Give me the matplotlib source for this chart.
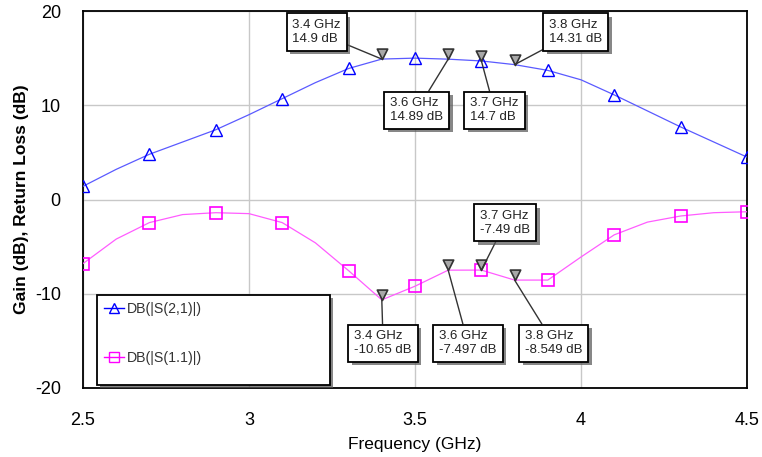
import matplotlib
matplotlib.use("Agg")
import matplotlib.pyplot as plt
from matplotlib.path import Path
from matplotlib.patches import Rectangle
from matplotlib.lines import Line2D
import matplotlib.patheffects as pe

plt.rcParams['font.family'] = ['Liberation Sans', 'DejaVu Sans']
plt.rcParams['axes.unicode_minus'] = False

# Swept response, 0.1 GHz steps
freq = [2.5, 2.6, 2.7, 2.8, 2.9, 3.0, 3.1, 3.2, 3.3, 3.4, 3.5,
        3.6, 3.7, 3.8, 3.9, 4.0, 4.1, 4.2, 4.3, 4.4, 4.5]
s21_db = [1.4, 3.2, 4.8, 6.1, 7.4, 9.0, 10.7, 12.4, 13.9, 14.9, 15.0,
          14.89, 14.7, 14.31, 13.7, 12.7, 11.1, 9.4, 7.7, 6.1, 4.5]
s11_db = [-6.8, -4.2, -2.45, -1.6, -1.4, -1.5, -2.45, -4.6, -7.55, -10.65, -9.2,
          -7.497, -7.49, -8.549, -8.55, -6.1, -3.75, -2.4, -1.75, -1.4, -1.3]

# Marker readouts
mk_freq = [3.4, 3.6, 3.7, 3.8]
mk_s21 = [14.9, 14.89, 14.7, 14.31]
mk_s11 = [-10.65, -7.497, -7.49, -8.549]
mk_s11_fmt = ["-10.65", "-7.497", "-7.49", "-8.549"]
mk_s21_fmt = ["14.9", "14.89", "14.7", "14.31"]

legend_labels = ["DB(|S(2,1)|)", "DB(|S(1.1)|)"]
xticks = [2.5, 3, 3.5, 4, 4.5]
xticklabels = ["2.5", "3", "3.5", "4", "4.5"]
yticks = [-20, -10, 0, 10, 20]

BLUE = '#0000ff'
MAG = '#ff00ff'

fig = plt.figure(figsize=(7.62, 4.57), dpi=100)
ax = fig.add_axes([83/762, 69/457, 664/762, 377/457])

ax.plot(freq, s21_db, color='#5a5aff', lw=0.9, marker='^', markevery=2,
        ms=8.5, mfc='none', mec=BLUE, mew=1.0, zorder=3)
ax.plot(freq, s11_db, color='#ff5cff', lw=0.9, marker='s', markevery=2,
        ms=9, mfc='none', mec=MAG, mew=1.2, zorder=3)

# inverted triangle with apex on the data point
tri = Path([(-0.5, 1.0), (0.5, 1.0), (0.0, 0.0), (-0.5, 1.0)],
           [Path.MOVETO, Path.LINETO, Path.LINETO, Path.CLOSEPOLY])
for vals in (mk_s21, mk_s11):
    ax.plot(mk_freq, vals, ls='none', marker=tri, ms=15, mfc='#a8a8a8',
            mec='#333333', mew=1.2, zorder=4)

shadow = [pe.SimplePatchShadow(offset=(2.5, -2.5), shadow_rgbFace='#555555', alpha=0.7),
          pe.Normal()]

s21_box = [(0.352, 0.944), (0.503, 0.737), (0.620, 0.737), (0.742, 0.944)]
s11_box = [(0.452, 0.119), (0.580, 0.119), (0.636, 0.438), (0.709, 0.119)]


def readout(x, y, label, pos):
    a = ax.annotate(label, xy=(x, y), xycoords='data', xytext=pos,
                    textcoords='axes fraction', ha='center', va='center',
                    multialignment='left', fontsize=9.5, linespacing=1.15,
                    color='#222222',
                    bbox=dict(boxstyle='square,pad=0.45', fc='white',
                              ec='black', lw=1.3),
                    arrowprops=dict(arrowstyle='-', color='#333333', lw=1.0,
                                    shrinkA=0, shrinkB=0),
                    zorder=6)
    a.get_bbox_patch().set_path_effects(shadow)


for f, v, t, p in zip(mk_freq, mk_s21, mk_s21_fmt, s21_box):
    readout(f, v, f"{f:g} GHz\n{t} dB", p)
for f, v, t, p in zip(mk_freq, mk_s11, mk_s11_fmt, s11_box):
    readout(f, v, f"{f:g} GHz\n{t} dB", p)

ax.set_xlim(2.5, 4.5)
ax.set_ylim(-20, 20)
ax.set_xticks(xticks)
ax.set_xticklabels(xticklabels)
ax.set_yticks(yticks)
ax.tick_params(axis='x', length=0, labelsize=13, pad=17)
ax.tick_params(axis='y', length=0, labelsize=13, pad=16)
ax.grid(True, color='#c8c8c8', lw=1.0)
ax.set_axisbelow(True)
for s in ax.spines.values():
    s.set_linewidth(1.3)

ax.set_xlabel("Frequency (GHz)", fontsize=12.5, labelpad=6)
ax.set_ylabel("Gain (dB), Return Loss (dB)", fontsize=12.5, fontweight='bold',
              labelpad=4)

# legend panel
frame = Rectangle((0.021, 0.008), 0.351, 0.239, transform=ax.transAxes,
                  fc='white', ec='black', lw=1.3, zorder=5)
frame.set_path_effects(shadow)
ax.add_patch(frame)
handles = [Line2D([], [], color=BLUE, lw=1.0, marker='^', ms=7, mfc='none', mec=BLUE),
           Line2D([], [], color=MAG, lw=1.0, marker='s', ms=7, mfc='none', mec=MAG)]
leg = ax.legend(handles, legend_labels, loc='upper left',
                bbox_to_anchor=(0.021, 0.247), frameon=False, fontsize=10.2,
                handlelength=1.4, handletextpad=0.2, labelspacing=2.45,
                borderpad=0.5, borderaxespad=0)
for t in leg.get_texts():
    t.set_color('#333333')
leg.set_zorder(7)

fig.savefig("out.png", dpi=100)
